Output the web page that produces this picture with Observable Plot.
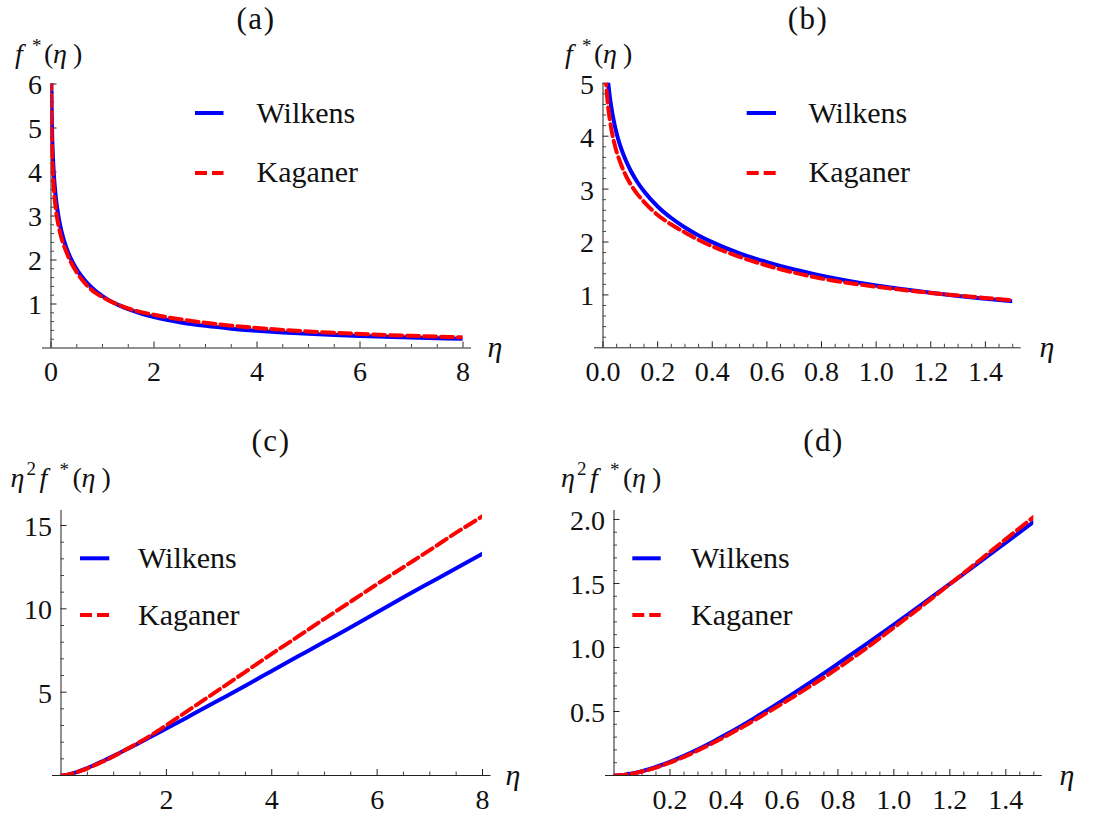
<!DOCTYPE html>
<html><head><meta charset="utf-8">
<script src="https://cdn.jsdelivr.net/npm/d3@7"></script>
<script src="https://cdn.jsdelivr.net/npm/@observablehq/plot@0.6"></script>
<style>
html,body{margin:0;padding:0;background:#fff;}
#wrap{position:relative;width:1094px;height:817px;overflow:hidden;background:#fff;font-family:"Liberation Serif","Times New Roman",serif;}
#wrap svg{position:absolute;left:0;top:0;overflow:visible;}
#wrap svg text, #wrap svg tspan{font-family:"Liberation Serif","Times New Roman",serif !important;}
</style></head><body><div id="wrap"></div>
<script>
// ---- data ----
const eta = [0.003,0.005,0.007,0.01,0.012,0.015,0.02,0.025,0.03,0.04,
  0.05,0.06,0.075,0.1,0.125,0.15,0.2,0.25,0.3,0.35,
  0.4,0.5,0.6,0.7,0.8,0.9,1.0,1.1,1.2,1.3,
  1.4,1.5,1.75,2,2.5,3,3.5,4,4.5,5,
  5.5,6,6.5,7,7.5,8];
const wilkens = [6.866,6.355,6.019,5.662,5.480,5.257,4.969,4.746,4.564,4.276,
  4.053,3.870,3.648,3.361,3.139,2.958,2.672,2.453,2.275,2.125,
  1.997,1.786,1.619,1.480,1.365,1.265,1.179,1.105,1.039,0.980,
  0.928,0.881,0.783,0.704,0.587,0.503,0.440,0.392,0.353,0.321,
  0.294,0.272,0.253,0.236,0.221,0.208];
const kaganer = [6.15,5.70,5.40,5.10,4.95,4.75,4.50,4.31,4.15,3.90,
  3.70,3.55,3.35,3.10,2.91,2.76,2.51,2.33,2.18,2.04,
  1.92,1.72,1.555,1.42,1.31,1.225,1.155,1.093,1.038,0.988,
  0.942,0.898,0.816,0.755,0.653,0.572,0.508,0.456,0.412,0.376,
  0.345,0.319,0.296,0.276,0.259,0.243];
const seriesNames = ["Wilkens","Kaganer"];
const panelTitles = ["(a)","(b)","(c)","(d)"];

// tick values and labels
const aXTicks=[0,2,4,6,8], aXLabels=["0","2","4","6","8"];
const aYTicks=[1,2,3,4,5,6], aYLabels=["1","2","3","4","5","6"];
const bXTicks=[0,0.2,0.4,0.6,0.8,1.0,1.2,1.4], bXLabels=["0.0","0.2","0.4","0.6","0.8","1.0","1.2","1.4"];
const bYTicks=[1,2,3,4,5], bYLabels=["1","2","3","4","5"];
const cXTicks=[2,4,6,8], cXLabels=["2","4","6","8"];
const cYTicks=[5,10,15], cYLabels=["5","10","15"];
const dXTicks=[0.2,0.4,0.6,0.8,1.0,1.2,1.4], dXLabels=["0.2","0.4","0.6","0.8","1.0","1.2","1.4"];
const dYTicks=[0.5,1.0,1.5,2.0], dYLabels=["0.5","1.0","1.5","2.0"];

const rows = eta.map((e,i)=>({eta:e, w:wilkens[i], k:kaganer[i]}));

const W=1094, H=817;
const FONT = "Liberation Serif, Times New Roman, serif";
const BLUE="#0000ff", RED="#ff0000";

function minors(step, max, majors){
  const out=[];
  for(let v=step; v<=max+1e-9; v+=step){
    const r=Math.round(v*1000)/1000;
    if(!majors.some(m=>Math.abs(m-r)<1e-6)) out.push(r);
  }
  return out;
}

function panel(o){
  const fw = o.right-o.left, fh = o.bottom-o.top;
  const data = rows.filter(d=>d.eta<=o.xDomain[1]+1e-9);
  const yW = o.sq ? (d=>d.eta*d.eta*d.w) : (d=>d.w);
  const yK = o.sq ? (d=>d.eta*d.eta*d.k) : (d=>d.k);
  return Plot.plot({
    width: W, height: H,
    marginLeft: o.left, marginRight: W-o.right, marginTop: o.top, marginBottom: H-o.bottom,
    x: {domain: o.xDomain, axis: null},
    y: {domain: o.yDomain, axis: null},
    style: {background:"transparent", overflow:"visible", fontFamily: FONT},
    marks: [
      Plot.ruleY([0], {insetLeft:-8.5, insetRight:-8.5, stroke:"#222", strokeWidth:1}),
      Plot.ruleX([0], {stroke:"#222", strokeWidth:1}),
      Plot.tickX(o.xMinor, {x:d=>d, insetTop: fh-3.5, stroke:"#444", strokeWidth:1}),
      Plot.tickX(o.xTicks, {x:d=>d, insetTop: fh-6, stroke:"#222", strokeWidth:1}),
      Plot.tickY(o.yMinor, {y:d=>d, insetRight: fw-3.5, stroke:"#444", strokeWidth:1}),
      Plot.tickY(o.yTicks, {y:d=>d, insetRight: fw-6, stroke:"#222", strokeWidth:1}),
      Plot.text(o.xTicks, {x:d=>d, frameAnchor:"bottom", lineAnchor:"middle", dy:24.5,
        text:(d,i)=>o.xLabels[i], fontSize:28, fontFamily:FONT, fill:"#111"}),
      Plot.text(o.yTicks, {y:d=>d, frameAnchor:"left", lineAnchor:"middle", textAnchor:"end", dx:-9, dy:1.5,
        text:(d,i)=>o.yLabels[i], fontSize:28, fontFamily:FONT, fill:"#111"}),
      Plot.line(data, {x:"eta", y:yW, stroke:BLUE, strokeWidth:4, curve:"monotone-x", clip:true}),
      Plot.line(data, {x:"eta", y:yK, stroke:RED, strokeWidth:4, strokeDasharray:"12,5", curve:"monotone-x", clip:true})
    ]
  });
}

const wrap = document.getElementById("wrap");
wrap.appendChild(panel({left:50.5,right:462.5,top:83.5,bottom:347.5,xDomain:[0,8],yDomain:[0,6],
  xTicks:aXTicks,xLabels:aXLabels,xMinor:minors(0.5,8,aXTicks),
  yTicks:aYTicks,yLabels:aYLabels,yMinor:minors(0.2,6,aYTicks),sq:false}));
wrap.appendChild(panel({left:602.5,right:1012.2,top:82.8,bottom:347.3,xDomain:[0,1.5],yDomain:[0,5],
  xTicks:bXTicks,xLabels:bXLabels,xMinor:minors(0.05,1.5,bXTicks),
  yTicks:bYTicks,yLabels:bYLabels,yMinor:minors(0.2,5,bYTicks),sq:false}));
wrap.appendChild(panel({left:60.5,right:482,top:510,bottom:775,xDomain:[0,8],yDomain:[0,15.9],
  xTicks:cXTicks,xLabels:cXLabels,xMinor:minors(0.5,8,cXTicks),
  yTicks:cYTicks,yLabels:cYLabels,yMinor:minors(1,15.9,cYTicks),sq:true}));
wrap.appendChild(panel({left:613.5,right:1033.3,top:510,bottom:775,xDomain:[0,1.5],yDomain:[0,2.07],
  xTicks:dXTicks,xLabels:dXLabels,xMinor:minors(0.05,1.5,dXTicks),
  yTicks:dYTicks,yLabels:dYLabels,yMinor:minors(0.1,2.07,dYTicks),sq:true}));

// ---- overlay: titles, axis names, legends ----
function fLabel(x,y){
  return `<text y="${y}" font-size="28"><tspan x="${x}" font-style="italic">f</tspan><tspan x="${x+17}" dy="-11" font-size="19">*</tspan><tspan x="${x+29}" dy="11">(</tspan><tspan x="${x+38}" font-style="italic">η</tspan><tspan x="${x+58}">)</tspan></text>`;
}
function eta2fLabel(x,y){
  return `<text y="${y}" font-size="28"><tspan x="${x}" font-style="italic">η</tspan><tspan x="${x+16}" dy="-12" font-size="19">2</tspan><tspan x="${x+29}" dy="12" font-style="italic">f</tspan><tspan x="${x+49}" dy="-11" font-size="19">*</tspan><tspan x="${x+62}" dy="11">(</tspan><tspan x="${x+71}" font-style="italic">η</tspan><tspan x="${x+91}">)</tspan></text>`;
}
function legend(x1,x2,y1,y2,tx,b1,b2){
  return `<line x1="${x1}" x2="${x2}" y1="${y1}" y2="${y1}" stroke="${BLUE}" stroke-width="4"/>`+
    `<line x1="${x1}" x2="${x2}" y1="${y2}" y2="${y2}" stroke="${RED}" stroke-width="4" stroke-dasharray="12,5"/>`+
    `<text x="${tx}" y="${b1}" font-size="30">${seriesNames[0]}</text>`+
    `<text x="${tx}" y="${b2}" font-size="30">${seriesNames[1]}</text>`;
}
function etaLabel(x,y){ return `<text x="${x}" y="${y}" font-size="30" font-style="italic" text-anchor="middle">η</text>`; }
function title(x,y,t){ return `<text x="${x}" y="${y}" font-size="31" letter-spacing="1.5" text-anchor="middle">${t}</text>`; }

const ov = `<svg xmlns="http://www.w3.org/2000/svg" width="${W}" height="${H}" font-family="${FONT}" fill="#111">
${title(256,28.5,panelTitles[0])}${title(808,28.5,panelTitles[1])}${title(271,451,panelTitles[2])}${title(823.5,451,panelTitles[3])}
${fLabel(15,63)}${fLabel(565,63)}${eta2fLabel(10.5,487)}${eta2fLabel(561,487)}
${etaLabel(495,357)}${etaLabel(1047,357)}${etaLabel(513,785)}${etaLabel(1067,785)}
${legend(195,223.5,113,173,256.5,123,182)}
${legend(746.7,776,113,173,808.5,123,182)}
${legend(80,109.3,558.3,615,138,568,625)}
${legend(632.3,660.7,558.3,615,691,568,625)}
</svg>`;
wrap.insertAdjacentHTML("beforeend", ov);
</script></body></html>
